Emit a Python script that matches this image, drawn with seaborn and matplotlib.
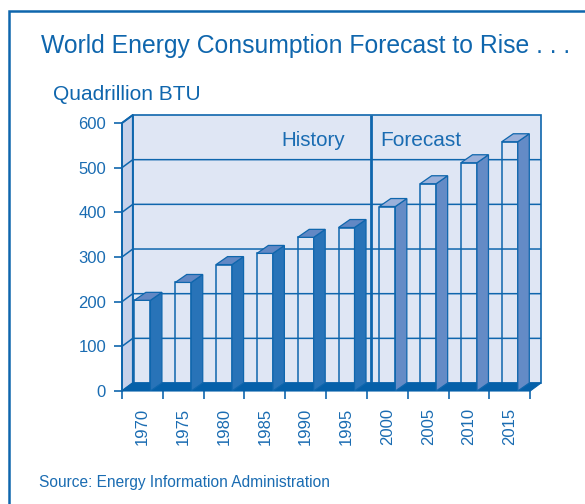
import matplotlib
matplotlib.use("Agg")
import matplotlib.pyplot as plt
import seaborn as sns
import pandas as pd
from matplotlib.patches import Polygon, Rectangle
from matplotlib.lines import Line2D

years = ["1970", "1975", "1980", "1985", "1990", "1995", "2000", "2005", "2010", "2015"]
values = [203, 243, 283, 308, 344, 366, 413, 464, 511, 558]
eras = ["History"] * 6 + ["Forecast"] * 4
y_ticks = [0, 100, 200, 300, 400, 500, 600]

INK = "#0f66ad"
TEXT = "#1a6cb2"
WALL = "#dfe6f4"
SIDE_WALL = "#c6d1ea"
FLOOR = "#0560a9"
SIDE = {"History": "#2873b8", "Forecast": "#648bc6"}
TOP = {"History": "#6288c4", "Forecast": "#9ab0da"}

sns.set_theme(style="white")
plt.rcParams["font.family"] = ["Liberation Sans", "DejaVu Sans"]

W, H = 585, 504
fig = plt.figure(figsize=(W / 100, H / 100), dpi=100, facecolor="white")
ax = fig.add_axes([122 / W, (H - 391) / H, (541 - 122) / W, (391 - 115) / H])

# Depth of the fake-3D box, in data units
px_x = 40.8
px_y = 0.448
dx = 10.8 / px_x
dy = 8 / px_y
bar_dx = 11.5 / px_x
bar_w = 16 / px_x

n = len(years)
left, right = -0.5, n - 0.5
top = y_ticks[-1]

df = pd.DataFrame({"year": years, "value": values})
sns.barplot(data=df, x="year", y="value", ax=ax, fill=False, color=INK,
            width=bar_w, linewidth=1.1, zorder=4)
for p in ax.patches:
    p.set_edgecolor(INK)
    p.set_zorder(4)
ax.set_xlim(left, right + dx)
ax.set_ylim(0, top + dy)

# Walls
ax.add_patch(Rectangle((left + dx, dy), right - left, top, fc=WALL, ec=INK, lw=1.2, zorder=1,
                       clip_on=False))
ax.add_patch(Polygon([(left, 0), (left + dx, dy), (left + dx, top + dy), (left, top)],
                     closed=True, fc=SIDE_WALL, ec=INK, lw=1.3, zorder=1.5, clip_on=False))
for t in y_ticks[1:-1]:
    ax.plot([left, left + dx, right + dx], [t, t + dy, t + dy], color=INK, lw=1.1, zorder=2,
            solid_joinstyle="miter")
ax.plot([left, left + dx], [top, top + dy], color=INK, lw=1.3, zorder=2, clip_on=False)

# Floor
ax.add_patch(Polygon([(left, 0), (left + dx, dy), (right + dx, dy), (right, 0)],
                     closed=True, fc=FLOOR, ec=FLOOR, lw=0.8, zorder=5, clip_on=False))

# Bar side and top faces
for i, (v, era) in enumerate(zip(values, eras)):
    x0, x1 = i - bar_w / 2, i + bar_w / 2
    ax.add_patch(Polygon([(x1, 0), (x1 + bar_dx, dy), (x1 + bar_dx, v + dy), (x1, v)],
                         closed=True, fc=SIDE[era], ec=INK, lw=0.9, zorder=6))
    ax.add_patch(Polygon([(x0, v), (x0 + bar_dx, v + dy), (x1 + bar_dx, v + dy), (x1, v)],
                         closed=True, fc=TOP[era], ec=INK, lw=0.9, zorder=6))

# History / forecast divider
split = eras.index("Forecast") - 0.5 + dx * 0.37
ax.plot([split, split], [dy, top + dy], color=INK, lw=2.0, zorder=3, solid_capstyle="butt")

# Axes furniture
sns.despine(ax=ax, left=True, bottom=True, right=True, top=True)
ax.set_xlabel("")
ax.set_ylabel("")
ax.set_yticks(y_ticks)
ax.set_yticklabels([str(t) for t in y_ticks], fontsize=12, color=TEXT)
ax.set_xticks(range(n))
ax.set_xticklabels(years, rotation=90, fontsize=12, color=TEXT)
ax.set_xticks([left + i for i in range(n + 1)], minor=True)
ax.tick_params(axis="x", which="major", length=0, pad=12)
ax.tick_params(axis="x", which="minor", length=5.5, width=1.2, color=INK, bottom=True)
ax.tick_params(axis="y", length=5.5, width=1.2, color=INK, pad=6, left=True)
ax.plot([left, left], [0, top], color=INK, lw=1.3, zorder=7, clip_on=False)

fig.text(281 / W, 1 - 146 / H, "History", fontsize=14.8, color=TEXT, va="baseline", zorder=10)
fig.text(380 / W, 1 - 146 / H, "Forecast", fontsize=15, color=TEXT, va="baseline", zorder=10)

# Titles and source
fig.text(41 / W, 1 - 53 / H, "World Energy Consumption Forecast to Rise . . .",
         fontsize=17.8, color=INK, va="baseline")
fig.text(53 / W, 1 - 100 / H, "Quadrillion BTU", fontsize=15, color=INK, va="baseline")
fig.text(39 / W, 1 - 487 / H, "Source: Energy Information Administration",
         fontsize=11.2, color=TEXT, va="baseline")

# Page frame (left and top edges)
fig.add_artist(Line2D([9 / W, 9 / W, 1], [0, 1 - 11 / H, 1 - 11 / H], color=INK, lw=1.8,
                      transform=fig.transFigure, solid_joinstyle="miter"))

fig.savefig("out.png", dpi=100, facecolor="white")
